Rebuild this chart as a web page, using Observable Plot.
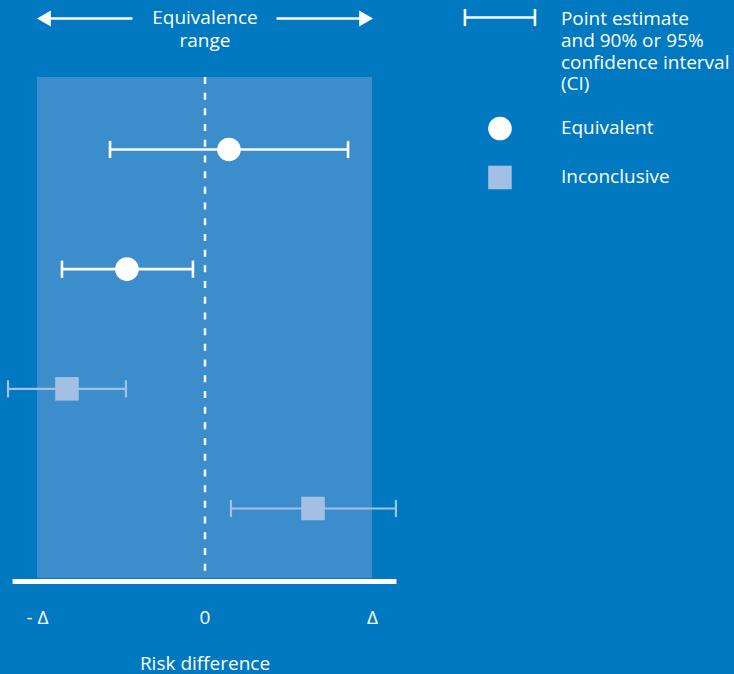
<!DOCTYPE html>
<html>
<head>
<meta charset="utf-8">
<script src="https://cdn.jsdelivr.net/npm/d3@7"></script>
<script src="https://cdn.jsdelivr.net/npm/@observablehq/plot@0.6"></script>
<style>
  html, body { margin: 0; padding: 0; background: #0079c1; }
  #chart svg { display: block; }
</style>
</head>
<body>
<div id="chart"></div>
<script>
// ---- data (risk difference in units of Δ) ----
const rows = [1, 2, 3, 4];
const estimate = [0.143, -0.466, -0.824, 0.645];
const ciLow = [-0.567, -0.854, -1.176, 0.155];
const ciHigh = [0.854, -0.072, -0.472, 1.140];
const status = ["Equivalent", "Equivalent", "Inconclusive", "Inconclusive"];
const tickValues = [-1, 0, 1];
const tickLabels = ["- Δ", "0", "Δ"];
const categories = ["Equivalent", "Inconclusive"];
const ciLegendLabel = "Point estimate\nand 90% or 95%\nconfidence interval\n(CI)";
const headerLabel = "Equivalence\nrange";
const axisTitle = "Risk difference";

const data = rows.map((r, i) => ({row: r, est: estimate[i], lo: ciLow[i], hi: ciHigh[i], status: status[i]}));

const BG = "#0079c1", BAND = "#3b8dcb", LIGHT = "#a3bfe3";
const vbar = {draw(ctx, size) { const r = Math.sqrt(size / Math.PI); ctx.moveTo(0, -r); ctx.lineTo(0, r); }};
const FS = 19;

const chart = Plot.plot({
  width: 734,
  height: 674,
  marginTop: 0, marginLeft: 0, marginRight: 0, marginBottom: 93,
  style: {background: BG, color: "white", fontFamily: "'Open Sans', sans-serif", fontSize: FS + "px"},
  x: {domain: [-1, 1], range: [37, 372], axis: null},
  y: {domain: [1, 4], range: [149, 508], axis: null},
  color: {domain: categories, range: ["white", LIGHT]},
  marks: [
    // equivalence band
    Plot.rect([0], {x1: -1, x2: 1, y1: 0.398, y2: 4.585, fill: BAND}),
    // zero line
    Plot.ruleX([0], {y1: 0.398, y2: 4.585, stroke: "white", strokeWidth: 2.5, strokeDasharray: "7,8.7"}),
    // axis baseline
    Plot.ruleY([4.61], {x1: -1.146, x2: 1.146, stroke: "white", strokeWidth: 5}),
    // tick labels
    Plot.text(tickValues, {x: d => d, text: (d, i) => tickLabels[i], frameAnchor: "bottom", lineAnchor: "middle", dy: 36, fill: "white", fontSize: FS}),
    Plot.text([axisTitle], {x: [0], text: d => d, frameAnchor: "bottom", lineAnchor: "middle", dy: 82, fill: "white", fontSize: FS}),
    // confidence intervals
    Plot.ruleY(data, {y: "row", x1: "lo", x2: "hi", stroke: "status", strokeWidth: d => d.status === "Equivalent" ? 2.6 : 2.2}),
    Plot.dot(data, {x: "lo", y: "row", symbol: vbar, r: 8.6, fill: "none", stroke: "status", strokeWidth: d => d.status === "Equivalent" ? 2.6 : 2.2}),
    Plot.dot(data, {x: "hi", y: "row", symbol: vbar, r: 8.6, fill: "none", stroke: "status", strokeWidth: d => d.status === "Equivalent" ? 2.6 : 2.2}),
    // point estimates
    Plot.dot(data.filter(d => d.status === "Equivalent"), {x: "est", y: "row", r: 11.8, fill: "white", stroke: null}),
    Plot.dot(data.filter(d => d.status === "Inconclusive"), {x: "est", y: "row", symbol: "square", r: 13.3, fill: LIGHT, stroke: null}),
    // header: equivalence range
    Plot.text([headerLabel], {x: [0], y: [-0.015], text: d => d, fill: "white", fontSize: FS, lineHeight: 1.2}),
    Plot.ruleY([-0.0947], {x1: -0.961, x2: -0.430, stroke: "white", strokeWidth: 2.6}),
    Plot.ruleY([-0.0947], {x1: 0.430, x2: 0.961, stroke: "white", strokeWidth: 2.6}),
    Plot.dot([-0.948], {x: d => d, y: [-0.0947], symbol: "triangle", rotate: -90, r: 5.94, fill: "white", stroke: null}),
    Plot.dot([0.948], {x: d => d, y: [-0.0947], symbol: "triangle", rotate: 90, r: 5.94, fill: "white", stroke: null}),
    // legend
    Plot.ruleY([-0.103], {x1: 1.552, x2: 1.970, stroke: "white", strokeWidth: 2.6}),
    Plot.dot([1.552, 1.970], {x: d => d, y: [-0.103, -0.103], symbol: vbar, r: 8.6, fill: "none", stroke: "white", strokeWidth: 2.6}),
    Plot.dot([categories[0]], {x: [1.761], y: [0.825], r: 11.8, fill: "white", stroke: null}),
    Plot.dot([categories[1]], {x: [1.761], y: [1.234], symbol: "square", r: 13.3, fill: LIGHT, stroke: null}),
    Plot.text([ciLegendLabel], {x: [2.125], y: [0.175], text: d => d, textAnchor: "start", fill: "white", fontSize: FS, lineHeight: 1.14}),
    Plot.text(categories, {x: [2.125, 2.125], y: [0.816, 1.226], text: d => d, textAnchor: "start", fill: "white", fontSize: FS})
  ]
});
document.getElementById("chart").appendChild(chart);
</script>
</body>
</html>
